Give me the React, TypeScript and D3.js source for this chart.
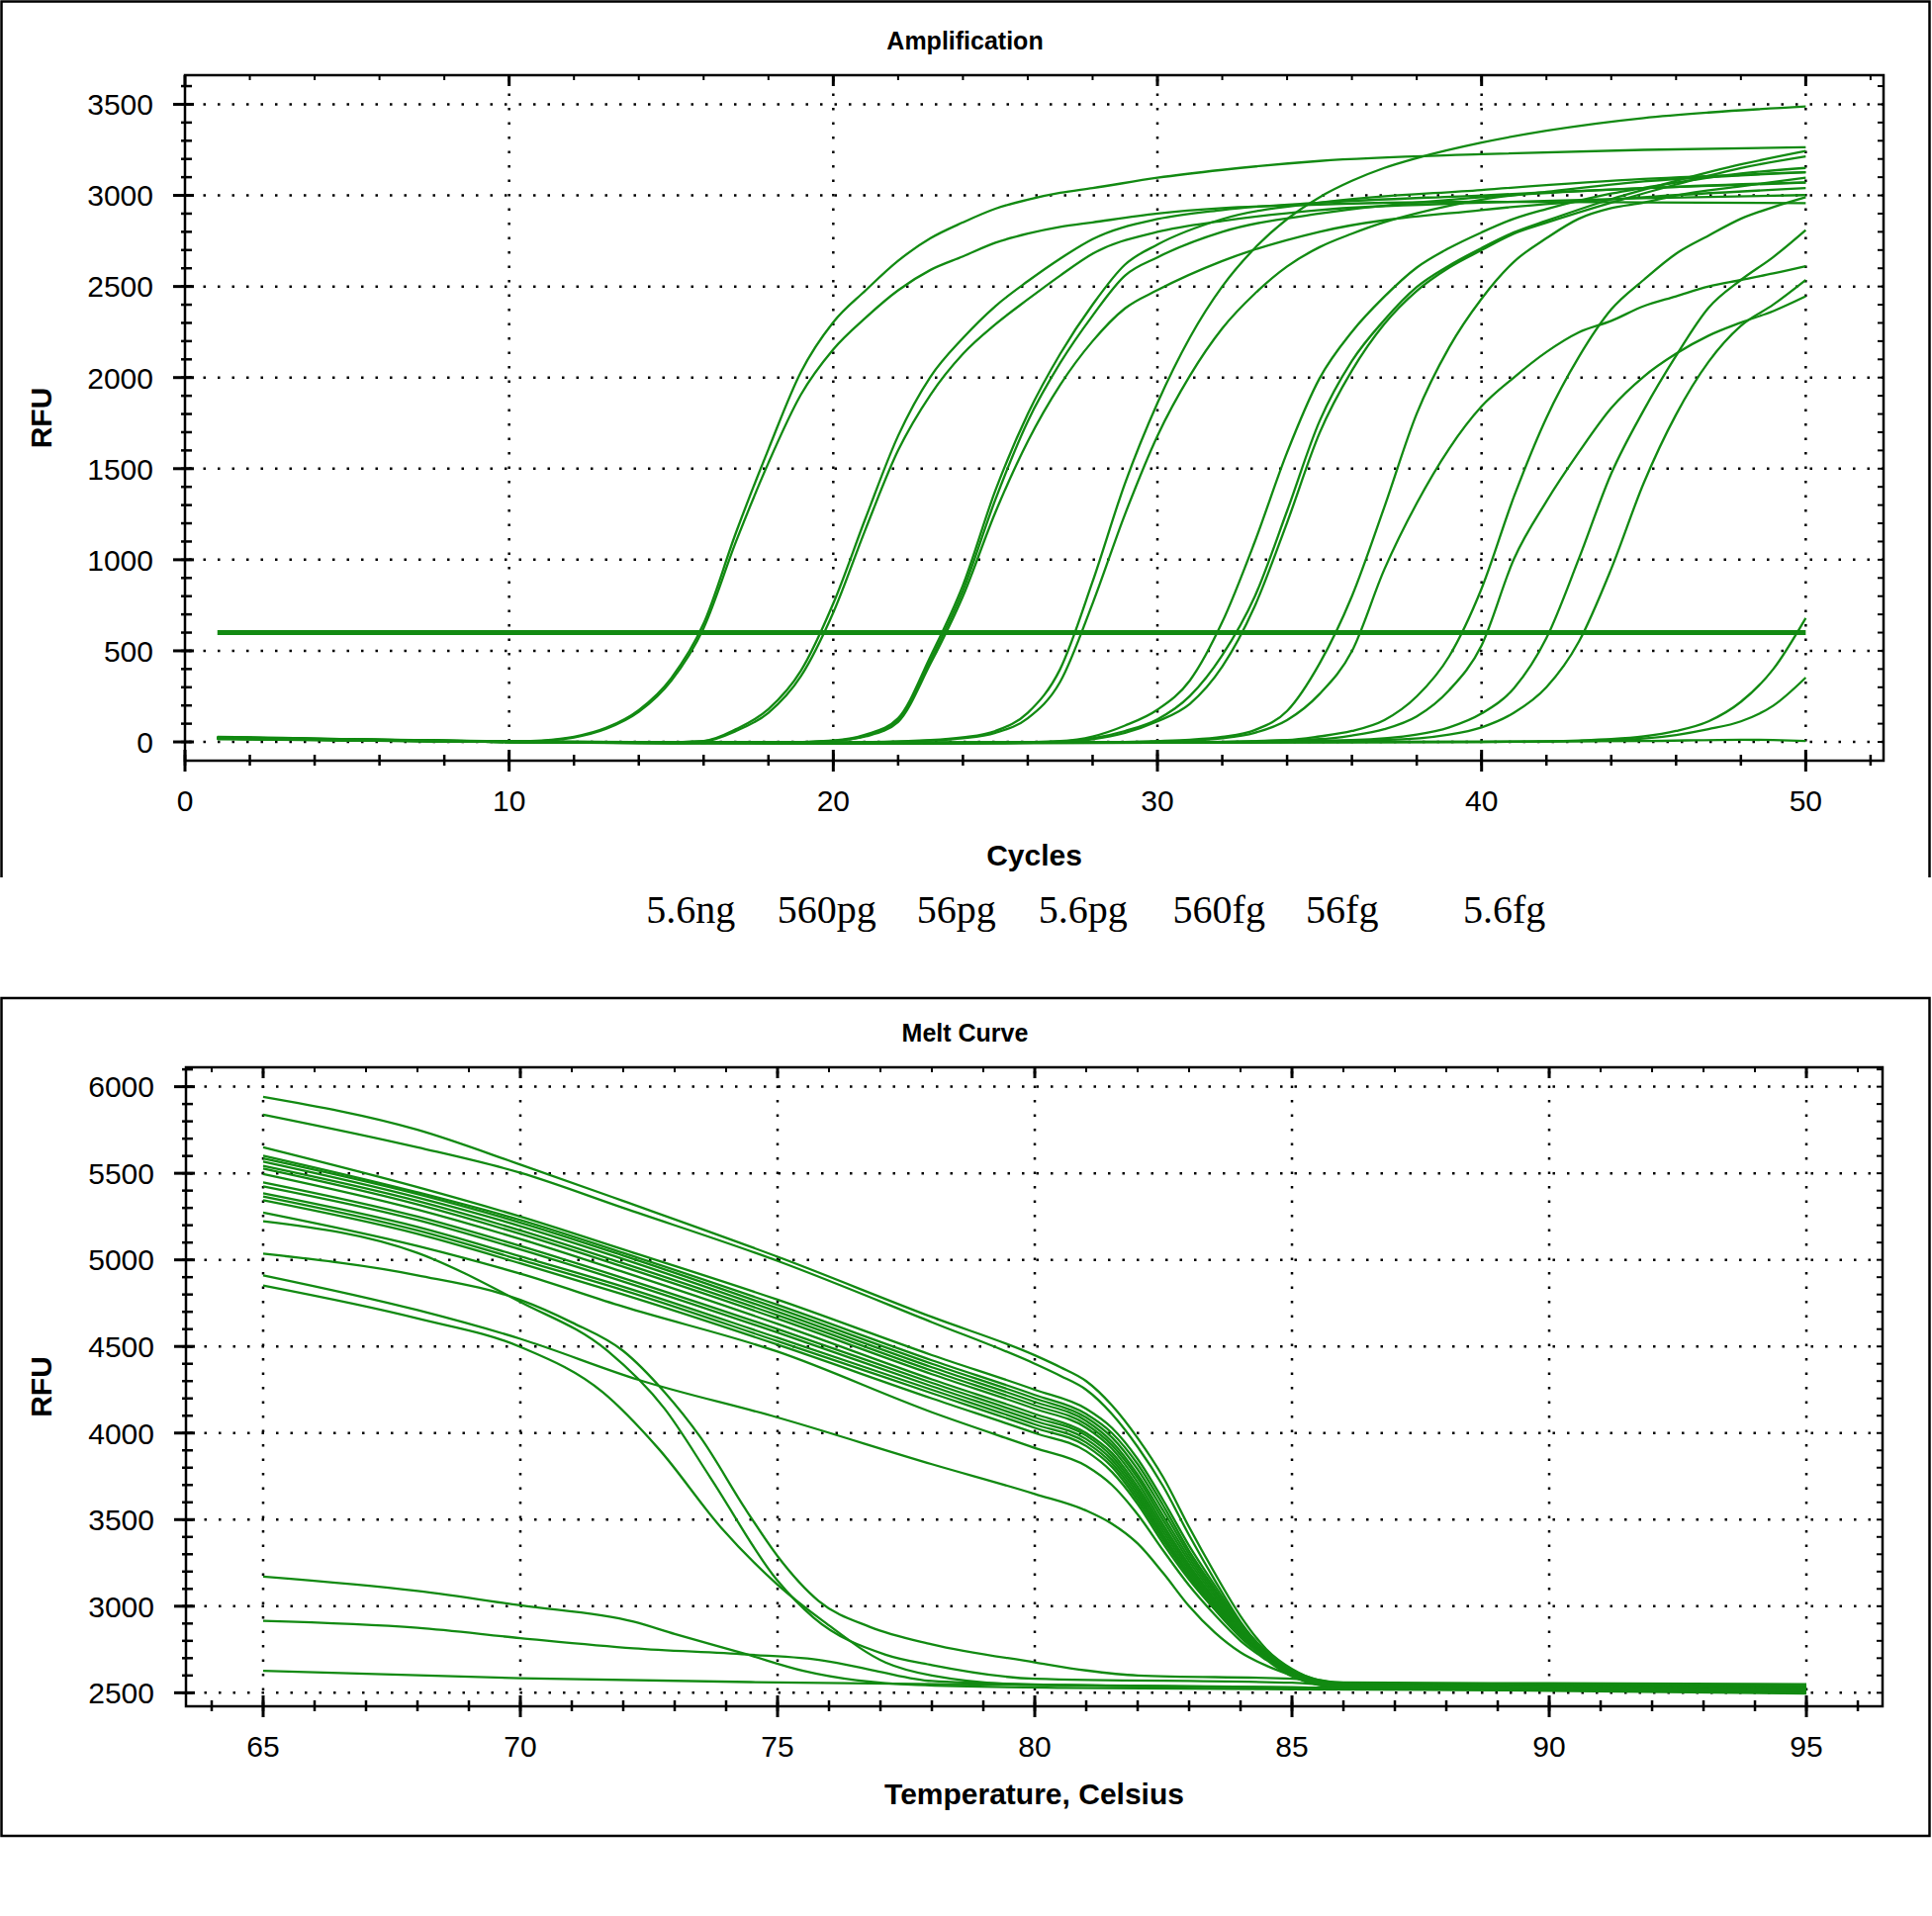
import * as d3 from "d3"

type Pt = [number, number]

// ---- Amplification: [cycle, RFU] ----
const amp56ngA: Pt[] = [[1,28],[3,22],[6,12],[9,4],[10,2],[11,8],[12,28],[13,78],[14,175],[15,350],[16,650],[17,1150],[18,1607],[19,2030],[20,2304],[21,2479],[22,2641],[23,2765],[24,2852],[25,2927],[26,2977],[27,3014],[28,3040],[30,3097],[32,3140],[35,3189],[40,3226],[45,3250],[50,3264]]
const amp56ngB: Pt[] = [[1,22],[3,18],[6,10],[9,3],[10,0],[11,5],[12,24],[13,72],[14,165],[15,335],[16,625],[17,1100],[18,1532],[19,1906],[20,2155],[21,2329],[22,2479],[23,2591],[24,2665],[25,2740],[26,2790],[27,2827],[28,2852],[30,2900],[32,2930],[35,2950],[40,2965],[45,2962],[50,2957]]
const amp560pgA: Pt[] = [[1,26],[4,16],[8,5],[11,0],[14,-5],[16,5],[17,70],[18,180],[19,390],[20,760],[21,1230],[22,1680],[23,2005],[24,2217],[25,2392],[26,2529],[27,2653],[28,2760],[30,2870],[32,2920],[35,2960],[40,3000],[45,3040],[50,3070]]
const amp560pgB: Pt[] = [[1,24],[4,15],[8,4],[11,-2],[14,-6],[16,3],[17,60],[18,160],[19,360],[20,710],[21,1170],[22,1600],[23,1906],[24,2130],[25,2292],[26,2429],[27,2560],[28,2680],[30,2800],[32,2860],[35,2920],[40,2960],[45,2985],[50,3002]]
const amp56pgA: Pt[] = [[1,25],[5,14],[10,2],[15,-6],[18,-4],[20,8],[21,40],[22,130],[23,470],[24,860],[25,1380],[26,1800],[27,2130],[28,2400],[29,2620],[30,2730],[32,2870],[35,2960],[40,3030],[45,3090],[50,3127]]
const amp56pgB: Pt[] = [[1,22],[5,12],[10,1],[15,-7],[18,-5],[20,6],[21,35],[22,120],[23,450],[24,830],[25,1330],[26,1760],[27,2080],[28,2340],[29,2560],[30,2660],[32,2800],[35,2900],[40,2990],[45,3040],[50,3072]]
const amp56pgC: Pt[] = [[1,20],[5,10],[10,0],[15,-8],[18,-6],[20,5],[21,30],[22,110],[23,430],[24,800],[25,1260],[26,1650],[27,1960],[28,2200],[29,2380],[30,2480],[32,2640],[35,2800],[40,2920],[45,2990],[50,3040]]
const amp5_6pgA: Pt[] = [[1,20],[5,10],[10,0],[15,-5],[20,-3],[23,10],[24,25],[25,60],[26,160],[27,400],[28,880],[29,1420],[30,1860],[31,2220],[32,2500],[33,2710],[34,2870],[35,2990],[36,3080],[37,3151],[38,3205],[40,3290],[42,3355],[45,3425],[47,3455],[50,3488]]
const amp5_6pgB: Pt[] = [[1,18],[5,8],[10,0],[15,-6],[20,-4],[23,8],[24,20],[25,50],[26,130],[27,330],[28,760],[29,1250],[30,1680],[31,2010],[32,2270],[33,2460],[34,2610],[35,2716],[36,2790],[37,2853],[38,2902],[40,2977],[42,3020],[45,3077],[48,3110],[50,3127]]
const amp560fgA: Pt[] = [[1,25],[10,3],[20,-8],[25,-5],[27,5],[28,30],[29,90],[30,177],[31,337],[32,658],[33,1097],[34,1589],[35,1995],[36,2251],[37,2444],[38,2604],[39,2711],[40,2797],[41,2872],[42,2925],[44,3010],[46,3070],[48,3120],[50,3151]]
const amp560fgB: Pt[] = [[1,22],[10,2],[20,-8],[25,-6],[27,2],[28,20],[29,60],[30,124],[31,252],[32,476],[33,797],[34,1268],[35,1760],[36,2091],[37,2316],[38,2497],[39,2615],[40,2711],[41,2797],[42,2861],[44,2980],[46,3080],[48,3170],[50,3244]]
const amp560fgC: Pt[] = [[1,20],[10,1],[20,-9],[25,-7],[27,0],[28,15],[29,50],[30,113],[31,209],[32,413],[33,744],[34,1204],[35,1695],[36,2038],[37,2294],[38,2476],[39,2604],[40,2700],[41,2790],[42,2850],[44,2960],[46,3060],[48,3150],[50,3214]]
const amp56fgA: Pt[] = [[1,24],[10,2],[20,-6],[28,-2],[30,5],[31,12],[32,28],[33,65],[34,170],[35,430],[36,800],[37,1289],[38,1802],[39,2166],[40,2433],[41,2636],[42,2765],[43,2872],[44,2930],[45,2960],[46,3000],[48,3050],[50,3097]]
const amp56fgB: Pt[] = [[1,20],[10,0],[20,-8],[30,0],[31,8],[32,20],[33,50],[34,120],[35,263],[36,498],[37,947],[38,1310],[39,1610],[40,1842],[41,2001],[42,2140],[43,2248],[44,2311],[45,2392],[46,2446],[47,2500],[48,2536],[49,2572],[50,2612]]
const amp5_6fgA: Pt[] = [[1,22],[10,1],[20,-7],[30,-3],[34,10],[35,30],[36,60],[37,120],[38,250],[39,470],[40,842],[41,1347],[42,1779],[43,2113],[44,2374],[45,2536],[46,2680],[47,2779],[48,2872],[49,2936],[50,2990]]
const amp5_6fgB: Pt[] = [[1,20],[10,0],[20,-8],[30,-4],[35,15],[36,35],[37,70],[38,140],[39,284],[40,530],[41,1005],[42,1320],[43,1590],[44,1833],[45,2005],[46,2131],[47,2230],[48,2302],[49,2365],[50,2446]]
const amp5_6fgC: Pt[] = [[1,20],[10,0],[20,-8],[30,-5],[36,10],[38,40],[39,80],[40,156],[41,295],[42,570],[43,1005],[44,1473],[45,1820],[46,2120],[47,2383],[48,2536],[49,2662],[50,2810]]
const amp5_6fgD: Pt[] = [[1,18],[10,0],[20,-8],[30,-5],[37,10],[39,40],[40,80],[41,160],[42,300],[43,550],[44,950],[45,1420],[46,1797],[47,2086],[48,2284],[49,2401],[50,2536]]
const ampLateA: Pt[] = [[1,20],[10,0],[20,-5],[30,-5],[40,0],[43,8],[44,15],[45,30],[46,60],[47,113],[48,220],[49,400],[50,680]]
const ampLateB: Pt[] = [[1,18],[10,0],[20,-5],[30,-5],[40,0],[44,8],[45,18],[46,38],[47,70],[48,113],[49,199],[50,353]]
const ampNtc: Pt[] = [[1,15],[10,0],[20,-3],[30,-2],[40,2],[45,5],[48,12],[49,10],[50,5]]

const ampCurves = [amp56ngA, amp56ngB, amp560pgA, amp560pgB, amp56pgA, amp56pgB, amp56pgC, amp5_6pgA, amp5_6pgB, amp560fgA, amp560fgB, amp560fgC, amp56fgA, amp56fgB, amp5_6fgA, amp5_6fgB, amp5_6fgC, amp5_6fgD, ampLateA, ampLateB, ampNtc]
const threshold = 600

const concLabels = ["5.6ng", "560pg", "56pg", "5.6pg", "560fg", "56fg", "5.6fg"]
const concCt = [15.6, 19.8, 23.8, 27.7, 31.9, 35.7, 40.7]

// ---- Melt curve: [temperature, RFU] ----
const meltTopA: Pt[] = [[65,5941],[68,5751],[70,5550],[72,5340],[75,5018],[78,4670],[80,4449],[80.5,4380],[81,4300],[81.5,4160],[82,3971],[82.5,3743],[83,3457],[83.5,3190],[84,2943],[84.5,2752],[85,2638],[85.5,2575],[86,2560],[90,2555],[95,2550]]
const meltTopB: Pt[] = [[65,5839],[68,5650],[70,5503],[72,5300],[75,4994],[78,4640],[80,4400],[80.5,4330],[81,4250],[81.5,4110],[82,3920],[82.5,3690],[83,3410],[83.5,3150],[84,2910],[84.5,2730],[85,2625],[85.5,2570],[86,2555],[90,2548],[95,2540]]

const bundleTemps = [65, 68, 70, 72, 75, 78, 80, 81, 81.5, 82, 82.5, 83, 83.5, 84, 84.5, 85, 86, 90, 95]
const bundleRfu = [
  [5650,5420,5250,5060,4770,4450,4250,4140,4030,3850,3610,3350,3120,2900,2740,2630,2555,2545,2540],
  [5602,5390,5230,5040,4740,4420,4220,4110,4000,3820,3580,3320,3100,2890,2735,2625,2550,2540,2535],
  [5586,5380,5215,5025,4720,4400,4200,4090,3975,3790,3550,3300,3085,2880,2730,2622,2548,2538,2530],
  [5567,5360,5195,5005,4700,4380,4180,4070,3950,3760,3520,3280,3070,2870,2725,2620,2546,2535,2528],
  [5543,5340,5170,4980,4680,4360,4160,4050,3930,3740,3495,3260,3055,2860,2720,2618,2544,2533,2525],
  [5527,5320,5150,4960,4660,4340,4140,4030,3910,3715,3470,3240,3040,2850,2715,2615,2542,2530,2522],
  [5496,5290,5120,4930,4630,4310,4110,4000,3885,3690,3450,3225,3030,2845,2712,2612,2540,2528,2518],
  [5448,5250,5080,4895,4600,4290,4090,3985,3865,3670,3430,3210,3020,2840,2708,2610,2538,2525,2515],
  [5425,5230,5060,4875,4580,4270,4070,3965,3845,3650,3410,3195,3010,2835,2705,2608,2536,2522,2512],
  [5384,5190,5020,4845,4550,4250,4050,3945,3825,3630,3395,3180,3000,2830,2702,2605,2534,2520,2508],
  [5366,5170,5000,4825,4530,4230,4030,3925,3805,3610,3380,3170,2990,2825,2700,2603,2532,2518,2505],
  [5344,5150,4980,4800,4510,4200,4000,3895,3775,3590,3360,3155,2980,2820,2698,2600,2530,2515,2500],
  [5273,5080,4920,4730,4470,4120,3914,3810,3700,3530,3320,3120,2950,2800,2690,2595,2528,2512,2495],
]

const meltLinear: Pt[] = [[65,4911],[68,4710],[70,4544],[72.3,4307],[75,4090],[78,3820],[80,3648],[81,3552],[81.5,3476],[82,3362],[82.5,3190],[83,3000],[83.5,2848],[84,2733],[84.5,2657],[85,2600],[85.5,2552],[86,2540],[90,2530],[95,2522]]
const meltEarlyA: Pt[] = [[65,5036],[68,4911],[70,4769],[71,4639],[72,4474],[72.8,4237],[73.5,3976],[74.4,3550],[75,3289],[75.8,3030],[76.8,2880],[78,2780],[80,2676],[81,2629],[82,2600],[85,2581],[86,2548],[90,2535],[95,2525]]
const meltEarlyB: Pt[] = [[65,5223],[68,5040],[70,4757],[71.7,4473],[72.8,4142],[73.7,3740],[75,3147],[75.7,2934],[77.1,2720],[78,2660],[80,2581],[85,2558],[86,2540],[90,2530],[95,2520]]
const meltEarlyC: Pt[] = [[65,4852],[68,4662],[70,4497],[71.6,4236],[72.7,3905],[73.9,3455],[75,3124],[75.9,2911],[77.1,2675],[78,2600],[80,2545],[85,2533],[86,2525],[90,2518],[95,2512]]
const meltLowA: Pt[] = [[65,3171],[68,3088],[70,3005],[72.2,2911],[73,2840],[74.4,2722],[75.5,2627],[77.7,2545],[80.6,2528],[85,2520],[95,2510]]
const meltLowB: Pt[] = [[65,2915],[68,2875],[70,2816],[72.2,2757],[74.4,2721],[75.9,2686],[76.9,2627],[78,2568],[80.6,2545],[85,2530],[95,2515]]
const meltLowC: Pt[] = [[65,2627],[70,2584],[75,2560],[80,2545],[85,2530],[95,2515]]

const meltCurves: Pt[][] = [
  meltTopA, meltTopB,
  ...bundleRfu.map((row) => row.map((v, i) => [bundleTemps[i], v] as Pt)),
  meltLinear, meltEarlyA, meltEarlyB, meltEarlyC, meltLowA, meltLowB, meltLowC,
]

const ampXTicks = [0, 10, 20, 30, 40, 50]
const ampYTicks = [0, 500, 1000, 1500, 2000, 2500, 3000, 3500]
const meltXTicks = [65, 70, 75, 80, 85, 90, 95]
const meltYTicks = [2500, 3000, 3500, 4000, 4500, 5000, 5500, 6000]

const W = 1953
const H = 1937
const GREEN = "#128a12"
const SANS = "'Liberation Sans', Arial, sans-serif"
const SERIF = "'Liberation Serif', 'Times New Roman', serif"

type Box = { left: number; right: number; top: number; bottom: number }

function Plot({
  box, x, y, xMajor, xMinor, yMajor, yMinor, xGrid, title, xTitle, xTitleGap, curves, children,
}: {
  box: Box
  x: d3.ScaleLinear<number, number>
  y: d3.ScaleLinear<number, number>
  xMajor: number[]
  xMinor: number[]
  yMajor: number[]
  yMinor: number[]
  xGrid: number[]
  title: string
  xTitle: string
  xTitleGap: number
  curves: Pt[][]
  children?: React.ReactNode
}) {
  const line = d3
    .line<Pt>()
    .x((d) => x(d[0]))
    .y((d) => y(d[1]))
    .curve(d3.curveMonotoneX)
  const midY = (box.top + box.bottom) / 2
  const midX = (box.left + box.right) / 2
  return (
    <g>
      <text x={midX - 70} y={box.top - 26} textAnchor="middle" fontFamily={SANS} fontWeight="bold" fontSize={25}>
        {title}
      </text>
      {/* dotted grid */}
      <g stroke="#000" strokeWidth={2.5} strokeDasharray="2.5 12">
        {yMajor.map((v) => (
          <line key={"gy" + v} x1={box.left + 4} x2={box.right} y1={y(v)} y2={y(v)} />
        ))}
        {xGrid.map((v) => (
          <line key={"gx" + v} x1={x(v)} x2={x(v)} y1={box.top + 4} y2={box.bottom} />
        ))}
      </g>
      {/* curves */}
      <g fill="none" stroke={GREEN} strokeWidth={2.3}>
        {curves.map((c, i) => (
          <path key={i} d={line(c) ?? ""} />
        ))}
      </g>
      {children}
      {/* frame and ticks */}
      <rect x={box.left} y={box.top} width={box.right - box.left} height={box.bottom - box.top} fill="none" stroke="#000" strokeWidth={2.5} />
      <g stroke="#000">
        {yMinor.map((v) => (
          <g key={"ym" + v}>
            <line x1={box.left - 4} x2={box.left + 7} y1={y(v)} y2={y(v)} strokeWidth={2.5} />
            <line x1={box.right - 6} x2={box.right} y1={y(v)} y2={y(v)} strokeWidth={2} />
          </g>
        ))}
        {yMajor.map((v) => (
          <line key={"yM" + v} x1={box.left - 12} x2={box.left + 9} y1={y(v)} y2={y(v)} strokeWidth={3} />
        ))}
        {xMinor.map((v) => (
          <g key={"xm" + v}>
            <line x1={x(v)} x2={x(v)} y1={box.bottom - 6} y2={box.bottom + 5} strokeWidth={2.5} />
            <line x1={x(v)} x2={x(v)} y1={box.top} y2={box.top + 5} strokeWidth={2} />
          </g>
        ))}
        {xMajor.map((v) => (
          <g key={"xM" + v}>
            <line x1={x(v)} x2={x(v)} y1={box.bottom - 11} y2={box.bottom + 11} strokeWidth={3} />
            <line x1={x(v)} x2={x(v)} y1={box.top} y2={box.top + 11} strokeWidth={3} />
          </g>
        ))}
      </g>
      <g fontFamily={SANS} fontSize={30} fill="#000">
        {yMajor.map((v) => (
          <text key={"yl" + v} x={box.left - 32} y={y(v)} dy="0.36em" textAnchor="end">
            {v}
          </text>
        ))}
        {xMajor.map((v) => (
          <text key={"xl" + v} x={x(v)} y={box.bottom + 51} textAnchor="middle">
            {v}
          </text>
        ))}
      </g>
      <text x={midX} y={box.bottom + xTitleGap} textAnchor="middle" fontFamily={SANS} fontWeight="bold" fontSize={30}>
        {xTitle}
      </text>
      <text
        transform={`translate(52,${midY}) rotate(-90)`}
        textAnchor="middle"
        fontFamily={SANS}
        fontWeight="bold"
        fontSize={30}
      >
        RFU
      </text>
    </g>
  )
}

export default function App() {
  const ampBox: Box = { left: 187, right: 1904, top: 76, bottom: 769 }
  const ampX = d3.scaleLinear().domain([0, 52.4]).range([ampBox.left, ampBox.right])
  const ampY = d3.scaleLinear().domain([-103, 3660]).range([ampBox.bottom, ampBox.top])

  const meltBox: Box = { left: 188, right: 1903, top: 1079, bottom: 1725 }
  const meltX = d3.scaleLinear().domain([63.5, 96.48]).range([meltBox.left, meltBox.right])
  const meltY = d3.scaleLinear().domain([2422, 6112]).range([meltBox.bottom, meltBox.top])

  return (
    <div style={{ position: "absolute", left: 0, top: 0 }}>
      <svg width={W} height={H} viewBox={`0 0 ${W} ${H}`} style={{ display: "block", background: "#fff" }}>
        <rect x={0} y={0} width={W} height={H} fill="#fff" />
        {/* outer frames */}
        <path d={`M1.5,887 V1.5 H1950.5 V887`} fill="none" stroke="#000" strokeWidth={2.5} />
        <rect x={1.5} y={1009} width={1949} height={847} fill="none" stroke="#000" strokeWidth={2.5} />

        <Plot
          box={ampBox}
          x={ampX}
          y={ampY}
          xMajor={ampXTicks}
          xMinor={d3.range(0, 53, 2)}
          yMajor={ampYTicks}
          yMinor={d3.range(0, 3700, 100)}
          xGrid={ampXTicks.slice(1)}
          title="Amplification"
          xTitle="Cycles"
          xTitleGap={106}
          curves={ampCurves}
        >
          <line x1={ampX(1)} x2={ampX(50)} y1={ampY(threshold)} y2={ampY(threshold)} stroke={GREEN} strokeWidth={5} />
        </Plot>

        <g fontFamily={SERIF} fontSize={40} fill="#000">
          {concLabels.map((t, i) => (
            <text key={t} x={ampX(concCt[i])} y={933} textAnchor="middle">
              {t}
            </text>
          ))}
        </g>

        <Plot
          box={meltBox}
          x={meltX}
          y={meltY}
          xMajor={meltXTicks}
          xMinor={d3.range(64, 97, 1)}
          yMajor={meltYTicks}
          yMinor={d3.range(2500, 6200, 100)}
          xGrid={meltXTicks}
          title="Melt Curve"
          xTitle="Temperature, Celsius"
          xTitleGap={99}
          curves={meltCurves}
        />
      </svg>
    </div>
  )
}
